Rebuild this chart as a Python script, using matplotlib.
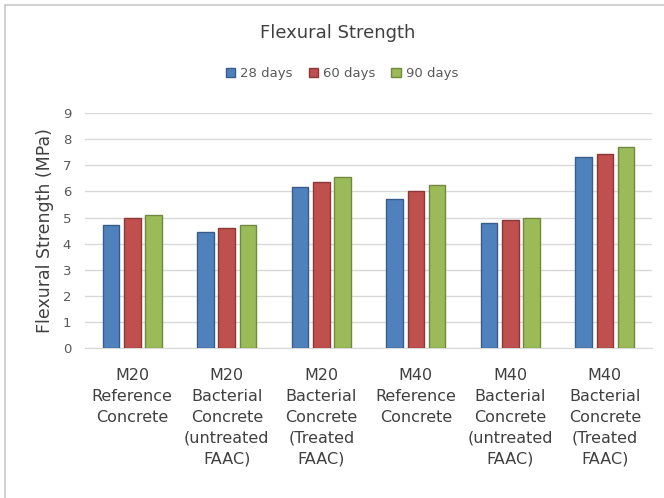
import numpy as np
import matplotlib
matplotlib.use("Agg")
import matplotlib.pyplot as plt
from matplotlib.patches import Rectangle

categories = ["M20\nReference\nConcrete",
              "M20\nBacterial\nConcrete\n(untreated\nFAAC)",
              "M20\nBacterial\nConcrete\n(Treated\nFAAC)",
              "M40\nReference\nConcrete",
              "M40\nBacterial\nConcrete\n(untreated\nFAAC)",
              "M40\nBacterial\nConcrete\n(Treated\nFAAC)"]
series_names = ["28 days", "60 days", "90 days"]
days28 = [4.7, 4.45, 6.15, 5.7, 4.8, 7.3]
days60 = [5.0, 4.6, 6.35, 6.0, 4.9, 7.45]
days90 = [5.1, 4.7, 6.55, 6.25, 5.0, 7.7]

colors = ["#4F81BD", "#C0504D", "#9BBB59"]
edges = ["#385D8A", "#8C3836", "#71893F"]

fig = plt.figure(figsize=(6.64, 4.98), dpi=100)
ax = fig.add_axes([0.128, 0.301, 0.854, 0.472])

x = np.arange(len(categories))
w = 0.175
step = 0.225
for i, (vals, name) in enumerate(zip([days28, days60, days90], series_names)):
    ax.bar(x + (i - 1) * step, vals, width=w, color=colors[i],
           edgecolor=edges[i], linewidth=1.0, label=name, zorder=3)

ax.set_xlim(-0.5, len(categories) - 0.5)
ax.set_ylim(0, 9)
ax.set_yticks(range(10))
ax.yaxis.grid(True, color="#D9D9D9", lw=1.0, zorder=0)
for s in ["top", "right", "left"]:
    ax.spines[s].set_visible(False)
ax.spines["bottom"].set_color("#D9D9D9")
ax.tick_params(axis="y", length=0, labelsize=9.5, colors="#595959", pad=10)
ax.tick_params(axis="x", length=0, pad=14)
ax.set_xticks(x)
ax.set_xticklabels(categories, fontsize=11.5, color="#404040", linespacing=1.5)
ax.set_ylabel("Flexural Strength (MPa)", fontsize=12.5, color="#404040", labelpad=6)

fig.text(338 / 664, 1 - 33 / 498, "Flexural Strength", ha="center", va="center",
         fontsize=13, color="#404040")
fig.legend(loc="center", bbox_to_anchor=(342 / 664, 1 - 74 / 498), ncol=3,
           frameon=False, fontsize=9.5, handlelength=0.7, handleheight=0.7,
           columnspacing=1.2, handletextpad=0.4, labelcolor="#595959")

fig.patches.append(Rectangle((5 / 664, -0.1), 1.1, 1 - 5 / 498 + 0.1,
                             transform=fig.transFigure, fill=False,
                             edgecolor="#C8C8C8", lw=1.2))

fig.savefig("out.png", dpi=100)
